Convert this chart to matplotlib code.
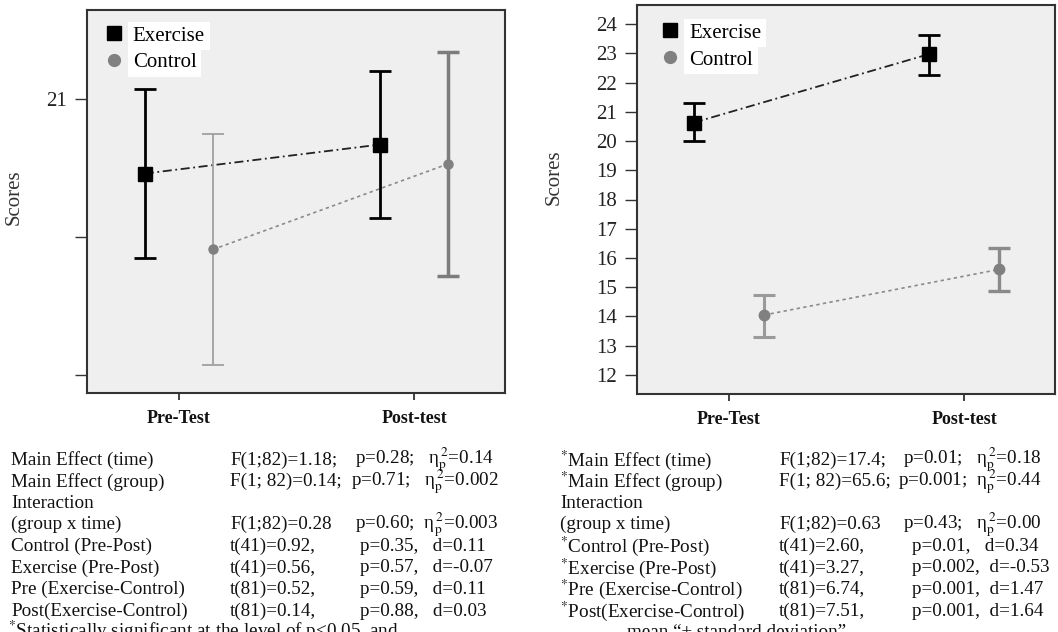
import matplotlib.pyplot as plt
from matplotlib.transforms import ScaledTranslation
from matplotlib.lines import Line2D

plt.rcParams['font.family'] = ['Liberation Serif', 'DejaVu Serif']
plt.rcParams['mathtext.fontset'] = 'stix'

# data (mean, lower and upper end of the bar)
times = ['Pre-Test', 'Post-test']
groups = ['Exercise', 'Control']

left_ex_mean = [20.46, 20.67]
left_ex_lo = [19.85, 20.14]
left_ex_hi = [21.07, 21.20]
left_co_mean = [19.91, 20.53]
left_co_lo = [19.07, 19.72]
left_co_hi = [20.75, 21.34]

right_ex_mean = [20.63, 22.97]
right_ex_lo = [19.99, 22.27]
right_ex_hi = [21.30, 23.62]
right_co_mean = [14.05, 15.61]
right_co_lo = [13.31, 14.88]
right_co_hi = [14.74, 16.34]

left_yticks = [19, 20, 21]
left_yticklabels = ['', '', '21']
right_yticks = list(range(12, 25))

ETA = "\u03b7${}_{\\mathrm{p}}^{\\,2}$"
STAR = "${}^{*}$"

# statistics under each panel: label, test statistic, p value and effect size
left_rows = [
    ("Main Effect (time)", "F(1;82)=1.18;", "p=0.28;   " + ETA + "=0.14"),
    ("Main Effect (group)", "F(1; 82)=0.14;", "p=0.71;   " + ETA + "=0.002"),
    ("Interaction", "", ""),
    ("(group x time)", "F(1;82)=0.28", "p=0.60;  " + ETA + "=0.003"),
    ("Control (Pre-Post)", "t(41)=0.92,", "p=0.35,   d=0.11"),
    ("Exercise (Pre-Post)", "t(41)=0.56,", "p=0.57,   d=-0.07"),
    ("Pre (Exercise-Control)", "t(81)=0.52,", "p=0.59,   d=0.11"),
    ("Post(Exercise-Control)", "t(81)=0.14,", "p=0.88,   d=0.03"),
]
right_rows = [
    (STAR + "Main Effect (time)", "F(1;82)=17.4;", "p=0.01;   " + ETA + "=0.18"),
    (STAR + "Main Effect (group)", "F(1; 82)=65.6;", "p=0.001;  " + ETA + "=0.44"),
    ("Interaction", "", ""),
    ("(group x time)", "F(1;82)=0.63", "p=0.43;   " + ETA + "=0.00"),
    (STAR + "Control (Pre-Post)", "t(41)=2.60,", "p=0.01,   d=0.34"),
    (STAR + "Exercise (Pre-Post)", "t(41)=3.27,", "p=0.002,  d=-0.53"),
    (STAR + "Pre (Exercise-Control)", "t(81)=6.74,", "p=0.001,  d=1.47"),
    (STAR + "Post(Exercise-Control)", "t(81)=7.51,", "p=0.001,  d=1.64"),
]

W, H = 1058, 632
fig = plt.figure(figsize=(W / 100, H / 100), dpi=100)


def draw_panel(rect, ex_mean, ex_lo, ex_hi, co_mean, co_lo, co_hi,
               ylim, yticks, yticklabels, label_shift, co_colors, co_widths,
               dodge, legend_anchor, ylabel_xy, co_ms):
    ax = fig.add_axes(rect)
    ax.set_facecolor('#efefef')
    x_ex = [i - dodge for i in range(len(times))]
    x_co = [i + dodge for i in range(len(times))]

    ax.plot(x_ex, ex_mean, color='#222222', lw=1.3, ls=(0, (5, 2, 1, 2)), zorder=2)
    ax.plot(x_co, co_mean, color='#8a8a8a', lw=1.2, ls=(0, (2, 2)), zorder=2)
    for i in range(len(times)):
        ax.errorbar(x_ex[i], ex_mean[i],
                    yerr=[[ex_mean[i] - ex_lo[i]], [ex_hi[i] - ex_mean[i]]],
                    fmt='s', color='black', ms=10, elinewidth=2, capsize=8,
                    capthick=2, zorder=3)
        ax.errorbar(x_co[i], co_mean[i],
                    yerr=[[co_mean[i] - co_lo[i]], [co_hi[i] - co_mean[i]]],
                    fmt='o', color=co_colors[i], mfc='#808080', mec='#808080',
                    ms=co_ms, elinewidth=co_widths[i], capsize=8,
                    capthick=co_widths[i], zorder=3)

    ax.set_xlim(-0.391, 1.387)
    ax.set_ylim(*ylim)
    ax.set_yticks(yticks)
    ax.set_yticklabels(yticklabels, fontsize=15)
    ax.set_xticks(range(len(times)))
    ax.set_xticklabels(times, fontsize=13, fontweight='bold')
    for lab, dx in zip(ax.get_xticklabels(), label_shift):
        lab.set_transform(lab.get_transform() +
                          ScaledTranslation(dx / 100, 0, fig.dpi_scale_trans))
    ax.tick_params(axis='y', length=8.6, width=1, pad=6, colors='#333333',
                   labelcolor='#222222')
    ax.tick_params(axis='x', length=5, width=1.3, pad=7.5, colors='#333333',
                   labelcolor='#111111')
    for sp in ax.spines.values():
        sp.set_color('#333333')
        sp.set_linewidth(1.5)

    ax.set_ylabel('Scores', fontsize=15, color='#333333')
    ax.yaxis.set_label_coords(*ylabel_xy)

    handles = [Line2D([], [], marker='s', ls='none', color='black', ms=10),
               Line2D([], [], marker='o', ls='none', color='#808080', ms=8.5)]
    leg = ax.legend(handles, groups, loc='upper left', bbox_to_anchor=legend_anchor,
                    frameon=False, fontsize=15, handlelength=0.8,
                    handletextpad=0.5, labelspacing=0.35, borderaxespad=0)
    for txt in leg.get_texts():
        txt.set_bbox(dict(facecolor='white', edgecolor='none', pad=3.5))
    return ax


draw_panel([87 / W, 1 - 393 / H, 418 / W, 383 / H],
           left_ex_mean, left_ex_lo, left_ex_hi,
           left_co_mean, left_co_lo, left_co_hi,
           (18.87, 21.645), left_yticks, left_yticklabels,
           [-37, -7], ['#a0a0a0', '#7c7c7c'], [1.3, 2.5],
           0.145, (0.025, 0.98), (-0.151, 0.512), 6.5)

draw_panel([637 / W, 1 - 394 / H, 418 / W, 389 / H],
           right_ex_mean, right_ex_lo, right_ex_hi,
           right_co_mean, right_co_lo, right_co_hi,
           (11.35, 24.65), right_yticks, [str(t) for t in right_yticks],
           [-54, -23], ['#9a9a9a', '#8a8a8a'], [2.2, 2.4],
           0.149, (0.04, 0.975), (-0.175, 0.558), 7.5)


def draw_table(rows, x1, x2, x3):
    for k, (a, b, c) in enumerate(rows):
        y = 1 - (460 + 21.6 * k) / H
        for x, s in [(x1, a), (x2, b), (x3[k], c)]:
            if s:
                fig.text(x / W, y, s, fontsize=13.8, va='center', ha='left',
                         color='#111111')


draw_table(left_rows, 11, 230, [355, 351, 0, 355, 360, 360, 360, 360])
draw_table(right_rows, 560, 779, [903, 898, 0, 903, 912, 912, 912, 912])

fig.text(8 / W, 1 - 637 / H, STAR + "Statistically significant at the level of p<0.05  and",
         fontsize=13.8, va='baseline', ha='left', color='#111111')
fig.text(627 / W, 1 - 637 / H, "mean \u201c\u00b1 standard deviation\u201d",
         fontsize=13.8, va='baseline', ha='left', color='#111111')

fig.savefig('out.png', dpi=100)
